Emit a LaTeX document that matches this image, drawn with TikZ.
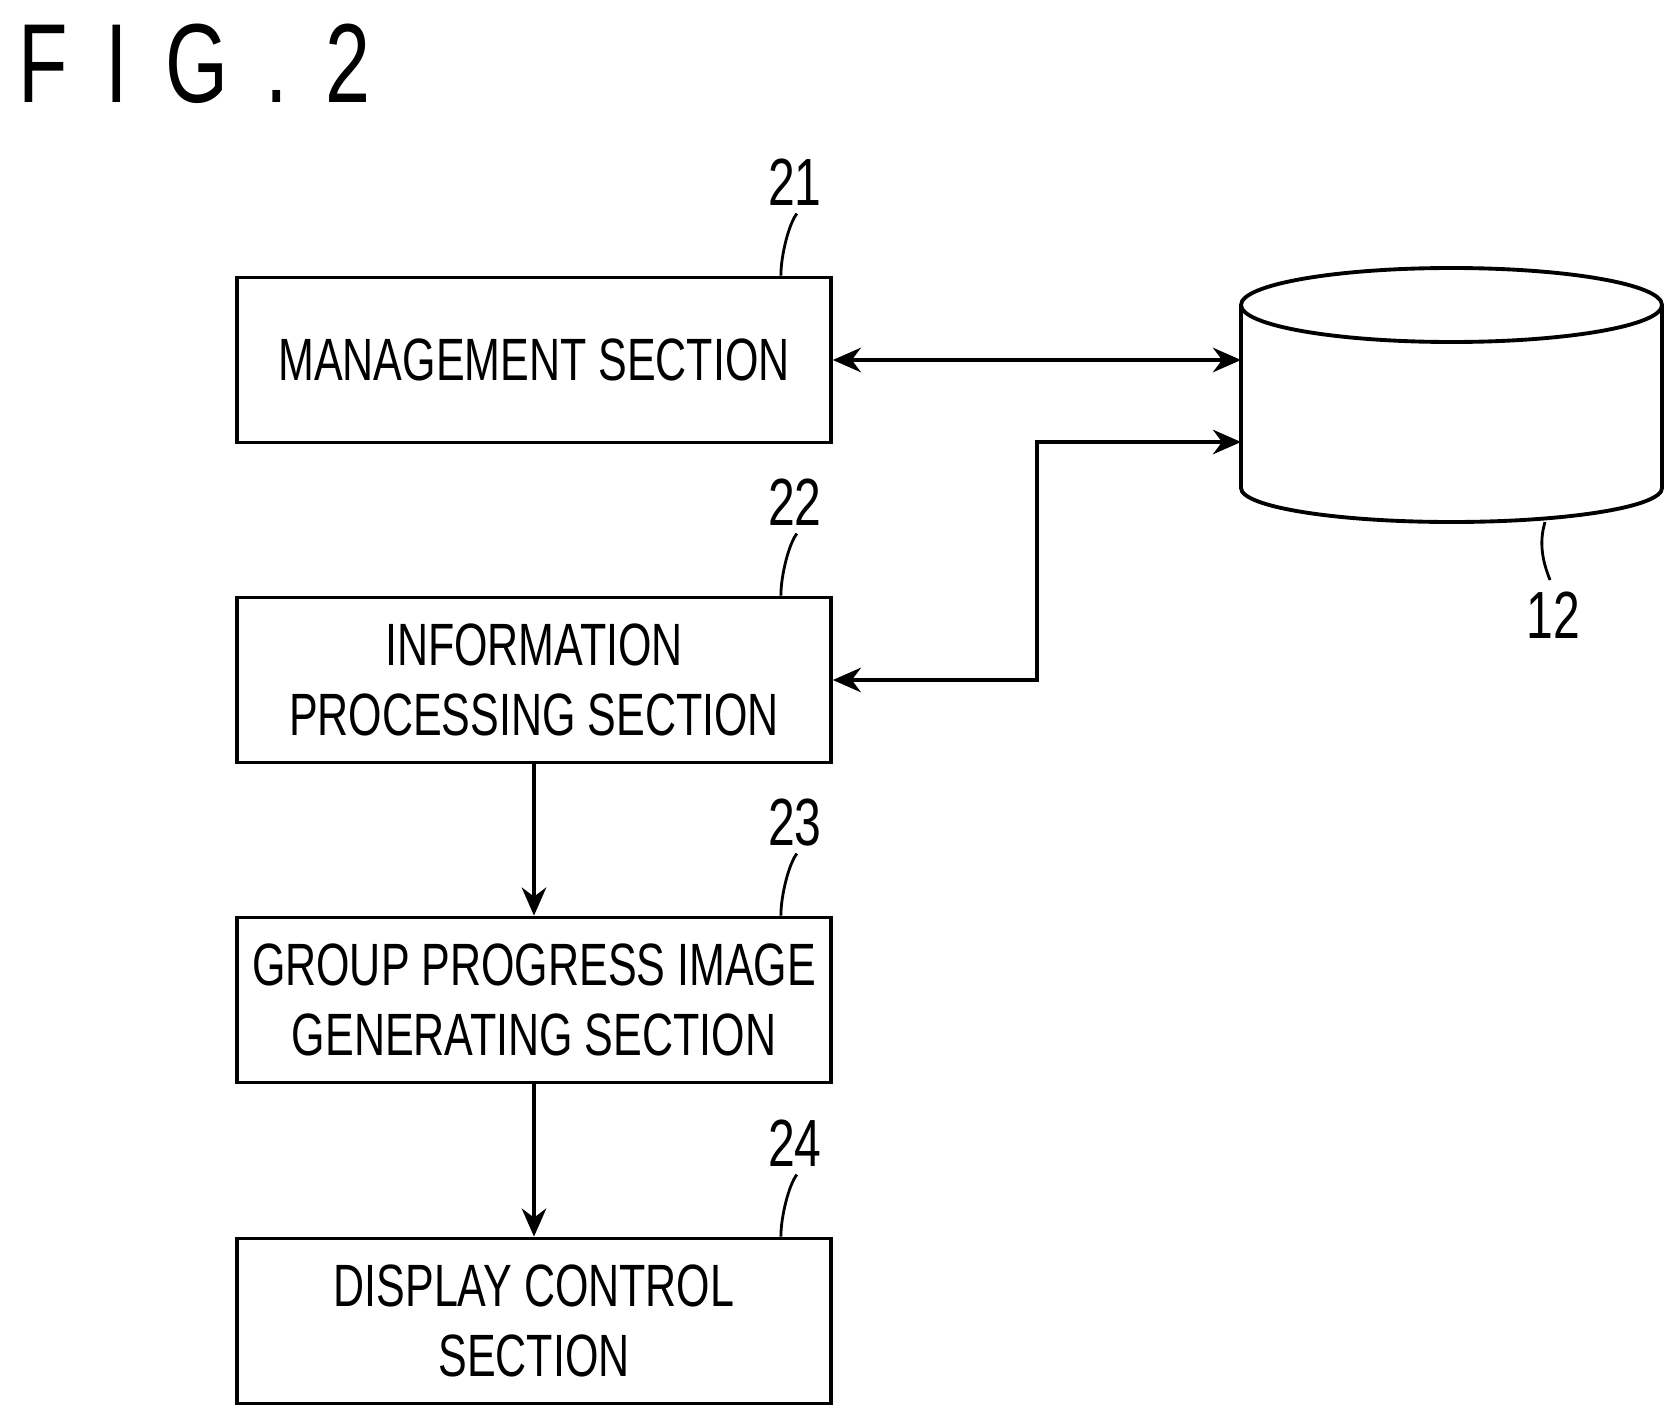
\documentclass[tikz,border=0pt]{standalone}
\usepackage{fontspec}
\setmainfont[FakeStretch=0.72]{Liberation Sans}
\usetikzlibrary{arrows.meta,positioning}
\tikzset{
  block/.style={draw,line width=2.2pt,minimum width=11.88cm,minimum height=3.3cm,
    align=center,font=\fontsize{34}{40}\selectfont},
  conn/.style={line width=1.8pt,-{Stealth[length=16pt,width=14pt]}},
  lead/.style={line width=1.6pt},
  refnum/.style={font=\fontsize{38}{38}\selectfont}
}
\begin{document}
\begin{tikzpicture}[x=0.02cm,y=-0.02cm]
  \useasboundingbox (0,0) rectangle (1676,1422);
  \node[anchor=north west,font=\fontsize{64}{64}\selectfont] (fig) at (12,18) {F\,\,I\,\,G\,\,.\,\,2};
  % blocks
  \node[block] (mgmt) at (534,360) {MANAGEMENT SECTION};
  \node[block] (info) at (534,680) {INFORMATION\\PROCESSING SECTION};
  \node[block] (grp)  at (534,1000) {GROUP PROGRESS IMAGE\\GENERATING SECTION};
  \node[block] (disp) at (534,1321) {DISPLAY CONTROL\\SECTION};
  % storage
  \draw[line width=2.2pt,fill=white] (1241,305) -- (1241,488) arc[start angle=180,end angle=360,x radius=210.5,y radius=-34] -- (1662,305);
  \draw[line width=2.2pt] (1451.5,305) ellipse [x radius=210.5,y radius=37];
  \coordinate (db1) at (1241,360);
  \coordinate (db2) at (1241,442);
  \coordinate (bend) at (1037,442);
  % connectors
  \draw[conn,{Stealth[length=16pt,width=14pt]}-{Stealth[length=16pt,width=14pt]}] (mgmt.east) -- (db1);
  \draw[conn,{Stealth[length=16pt,width=14pt]}-{Stealth[length=16pt,width=14pt]}] (info.east) -| (bend) -- (db2);
  \draw[conn] (info.south) -- (grp.north);
  \draw[conn] (grp.south) -- (disp.north);
  % reference numerals
  \foreach \b/\n in {mgmt/21,info/22,grp/23,disp/24}{
    \node[refnum] (n\n) at ([shift={(-38,-93)}]\b.north east) {\n};
    \draw[lead] ([shift={(-52,0)}]\b.north east) .. controls +(0,-20) and +(-8,10) .. ++(16,-62);
  }
  \node[refnum] (n12) at (1553,615) {12};
  \draw[lead] (1545,522) .. controls +(-6,20) and +(-8,-20) .. (1550,580);
\end{tikzpicture}
\end{document}
